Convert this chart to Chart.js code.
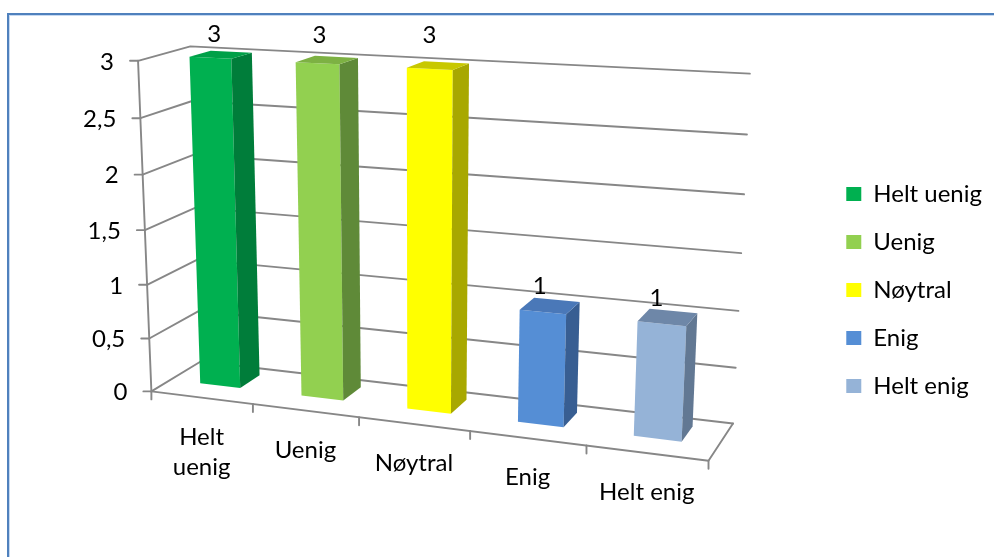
<!DOCTYPE html>
<html>
<head>
<meta charset="utf-8">
<script src="https://cdn.jsdelivr.net/npm/chart.js@4.4.1/dist/chart.umd.min.js"></script>
<style>
  html, body { margin: 0; padding: 0; background: #ffffff; }
  #wrap { position: relative; width: 994px; height: 557px; }
</style>
</head>
<body>
<div id="wrap"><canvas id="chart" width="994" height="557"></canvas></div>
<script>
// ---- data ----
const categories = ['Helt uenig', 'Uenig', 'Nøytral', 'Enig', 'Helt enig'];
const axisLabelLines = [['Helt', 'uenig'], ['Uenig'], ['Nøytral'], ['Enig'], ['Helt enig']];
const answers = [3, 3, 3, 1, 1];
const valueTickLabels = ['0', '0,5', '1', '1,5', '2', '2,5', '3'];

// ---- styles ----
const frontColors = ['#00B050', '#92D050', '#FFFF00', '#558ED5', '#95B3D7'];
const sideColors  = ['#007D3A', '#5F8A38', '#A8A800', '#385E92', '#627893'];
const topColors   = ['#00A048', '#7DB143', '#C8C800', '#4A78B8', '#6E87A8'];
const FONT = 'Lato, "Liberation Sans", sans-serif';
const FONT_SIZE = 24;
const GRID = '#878787';

// depth range of the columns inside the plot box (0 = front, 1 = back wall)
const Z_FRONT = 0.38, Z_BACK = 0.80;

// Corners of the 3D plot box on screen: [x, y(fraction of max), z, screenX, screenY]
const boxAnchors = [
  [0, 0, 0, 153, 390], [0, 1, 0, 137, 61], [0, 0, 1, 198, 365], [0, 1, 1, 193, 46],
  [1, 0, 0, 708, 463], [1, 0, 1, 733, 422], [1, 1, 1, 750, 74], [1, 5/6, 1, 747, 135],
  [1, 2/3, 1, 744, 194], [1, 1/3, 1, 738, 310], [1, 1/6, 1, 736, 366],
  [0, 5/6, 0, 138, 119], [0, 1/6, 0, 150, 336],
  [0.2, 0, 0, 254, 403], [0.4, 0, 0, 360, 417], [0.6, 0, 0, 469, 432], [0.8, 0, 0, 587, 447]
];

// Least-squares pinhole camera (DLT) from the box anchors
function fitCamera(pairs) {
  const cx = 450, cy = 260, s = 300, n = 11;
  const N = Array.from({ length: n }, () => new Array(n + 1).fill(0));
  const addRow = (row, rhs) => {
    for (let i = 0; i < n; i++) {
      for (let j = 0; j < n; j++) N[i][j] += row[i] * row[j];
      N[i][n] += row[i] * rhs;
    }
  };
  for (const [X, Y, Z, px, py] of pairs) {
    const u = (px - cx) / s, v = (py - cy) / s;
    addRow([X, Y, Z, 1, 0, 0, 0, 0, -u * X, -u * Y, -u * Z], u);
    addRow([0, 0, 0, 0, X, Y, Z, 1, -v * X, -v * Y, -v * Z], v);
  }
  for (let i = 0; i < n; i++) {
    let p = i;
    for (let k = i + 1; k < n; k++) if (Math.abs(N[k][i]) > Math.abs(N[p][i])) p = k;
    [N[i], N[p]] = [N[p], N[i]];
    for (let k = 0; k < n; k++) {
      if (k === i) continue;
      const f = N[k][i] / N[i][i];
      for (let j = i; j <= n; j++) N[k][j] -= f * N[i][j];
    }
  }
  const m = N.map((row, i) => row[n] / row[i]);
  return (X, Y, Z) => {
    const w = m[8] * X + m[9] * Y + m[10] * Z + 1;
    return [cx + s * (m[0] * X + m[1] * Y + m[2] * Z + m[3]) / w,
            cy + s * (m[4] * X + m[5] * Y + m[6] * Z + m[7]) / w];
  };
}
const project = fitCamera(boxAnchors);

function poly(ctx, pts, fill) {
  ctx.beginPath();
  ctx.moveTo(pts[0][0], pts[0][1]);
  for (let i = 1; i < pts.length; i++) ctx.lineTo(pts[i][0], pts[i][1]);
  if (fill) { ctx.closePath(); ctx.fillStyle = fill; ctx.fill(); }
  else ctx.stroke();
}

const perspectiveColumns = {
  id: 'perspectiveColumns',
  beforeDraw(chart) {
    const ctx = chart.ctx;
    ctx.save();
    ctx.fillStyle = '#4F81BD';
    ctx.fillRect(7, 13, 2, chart.height - 13);
    ctx.fillRect(7, 13, chart.width - 7, 2);
    ctx.fillStyle = '#C6D9F1';
    ctx.fillRect(9, 15, 1, chart.height - 15);
    ctx.fillRect(9, 15, chart.width - 9, 1);
    ctx.restore();
  },
  beforeDatasetsDraw(chart) {
    const ctx = chart.ctx, area = chart.chartArea;
    const xs = chart.scales.x, ys = chart.scales.y;
    const yFrac = v => (area.bottom - ys.getPixelForValue(v)) / area.height;
    const xFrac = px => (px - area.left) / area.width;
    const P = project;

    ctx.save();
    ctx.lineWidth = 1.9;
    ctx.strokeStyle = GRID;
    ctx.lineCap = 'round';
    ctx.lineJoin = 'round';
    ctx.font = FONT_SIZE + 'px ' + FONT;
    ctx.fillStyle = '#000';

    // walls: gridlines on the side wall and the back wall, value labels on the front edge
    ys.ticks.forEach((t, i) => {
      const f = yFrac(t.value);
      poly(ctx, [P(0, f, 0), P(0, f, 1), P(1, f, 1)]);
      const a = P(0, f, 0);
      poly(ctx, [[a[0] - 8, a[1]], a]);
      ctx.textAlign = 'right';
      ctx.textBaseline = 'middle';
      ctx.fillText(valueTickLabels[i], a[0] - 24, a[1] + 1);
    });
    // value axis and floor edges
    poly(ctx, [P(0, 1, 0), P(0, 0, 0), P(1, 0, 0), P(1, 0, 1)]);

    // category ticks and labels
    for (let i = 0; i <= categories.length; i++) {
      const b = P(xFrac(xs.getPixelForValue(i - 0.5)), 0, 0);
      poly(ctx, [b, [b[0], b[1] + 8]]);
    }
    ctx.textAlign = 'center';
    ctx.textBaseline = 'alphabetic';
    categories.forEach((c, i) => {
      const p = P(xFrac(xs.getPixelForValue(i)), 0, 0);
      axisLabelLines[i].forEach((line, k) => {
        ctx.fillText(line, p[0], p[1] + 47 + k * 30);
      });
    });

    // columns
    const meta = chart.getDatasetMeta(0);
    meta.data.forEach((el, i) => {
      const { x, y, width } = el.getProps(['x', 'y', 'width'], true);
      const x0 = xFrac(x - width / 2), x1 = xFrac(x + width / 2);
      const h = (area.bottom - y) / area.height;
      const front = [P(x0, 0, Z_FRONT), P(x1, 0, Z_FRONT), P(x1, h, Z_FRONT), P(x0, h, Z_FRONT)];
      const side = [P(x1, 0, Z_FRONT), P(x1, 0, Z_BACK), P(x1, h, Z_BACK), P(x1, h, Z_FRONT)];
      const top = [P(x0, h, Z_FRONT), P(x1, h, Z_FRONT), P(x1, h, Z_BACK), P(x0, h, Z_BACK)];
      poly(ctx, front, frontColors[i]);
      poly(ctx, side, sideColors[i]);
      poly(ctx, top, topColors[i]);

      // value label above the back edge of the column top
      const xc = (x0 + x1) / 2;
      const a = P(xc, h, Z_BACK);
      const lift = 10 + 7 * h + 10 * h * Math.max(0, 1 - Math.abs(xc - 0.5) / 0.4);
      ctx.fillStyle = '#000';
      ctx.textAlign = 'center';
      ctx.textBaseline = 'middle';
      ctx.fillText(String(answers[i]), a[0] - 17, a[1] - lift);
    });
    ctx.restore();
    return false;
  }
};

new Chart(document.getElementById('chart'), {
  type: 'bar',
  data: {
    labels: categories,
    datasets: [{
      data: answers,
      backgroundColor: frontColors,
      categoryPercentage: 1,
      barPercentage: 0.4
    }]
  },
  options: {
    responsive: false,
    animation: false,
    layout: { padding: { top: 23, right: 2, left: 0, bottom: 0 } },
    scales: {
      x: { display: false },
      y: { display: false, min: 0, max: 3, ticks: { stepSize: 0.5 } }
    },
    plugins: {
      tooltip: { enabled: false },
      legend: {
        position: 'right',
        labels: {
          color: '#000',
          font: { family: FONT, size: FONT_SIZE },
          boxWidth: 15,
          boxHeight: 14,
          padding: 24,
          generateLabels: chart => chart.data.labels.map((l, i) => ({
            text: l, fillStyle: frontColors[i], strokeStyle: frontColors[i],
            lineWidth: 0, hidden: false, index: i, datasetIndex: 0
          }))
        }
      }
    }
  },
  plugins: [perspectiveColumns]
});
</script>
</body>
</html>
